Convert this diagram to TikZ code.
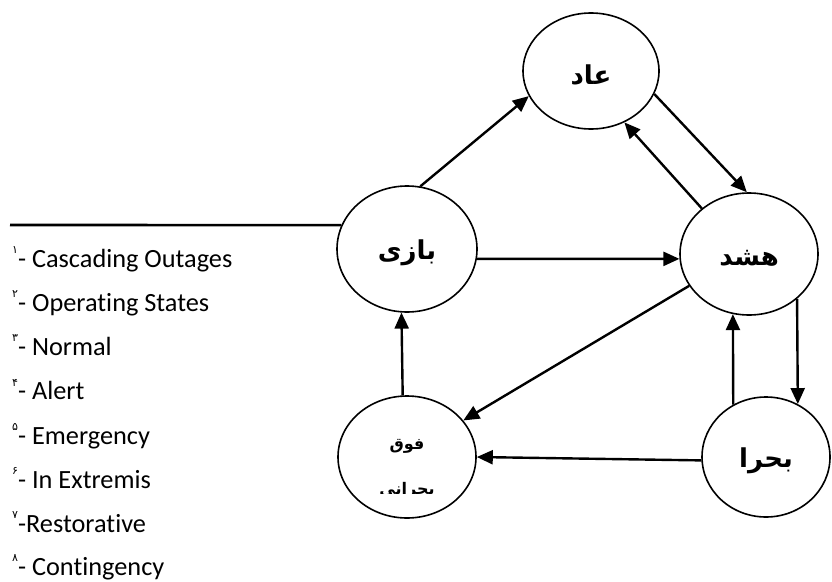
\documentclass[tikz,border=0pt]{standalone}
\usepackage{fontspec}
\setmainfont[Ligatures=NoCommon]{Carlito}
\newfontfamily\fa[Script=Arabic]{DejaVu Sans}
\TeXXeTstate=1
\usetikzlibrary{shapes.geometric,arrows.meta}
\newcommand{\lowlabel}[1]{\raisebox{-4pt}[\height][\depth]{\beginR #1\endR}}
\begin{document}
\begin{tikzpicture}[x=1pt,y=-1pt,
  state/.style={ellipse,draw,line width=1.6pt,inner sep=0pt,font=\fa\bfseries\fontsize{26}{30}\selectfont},
  arr/.style={line width=2.4pt,-{Triangle[length=16pt,width=14pt]}},
  item/.style={anchor=base west,inner sep=0pt,font=\fontsize{26.3}{30}\selectfont}]
\useasboundingbox (0,0) rectangle (832,581);
% states
\node[state,minimum width=136pt,minimum height=116pt] (A) at (591,71) {\lowlabel{عاد}};
\node[state,minimum width=140pt,minimum height=126pt] (B) at (407,249) {\lowlabel{بازی}};
\node[state,minimum width=138pt,minimum height=122pt] (H) at (749,254) {\lowlabel{هشد}};
\node[state,minimum width=128pt,minimum height=120pt] (R) at (766,457) {\lowlabel{بحرا}};
\node[ellipse,draw,line width=1.6pt,inner sep=0pt,minimum width=138pt,minimum height=122pt] (F) at (407,457) {};
\node[font=\fa\bfseries\fontsize{16}{18}\selectfont,inner sep=0pt] (F1) at (407,446) {\beginR فوق\endR};
\begin{scope}
  \clip (330,470) rectangle (490,493);
  \node[font=\fa\bfseries\fontsize{16}{18}\selectfont,inner sep=0pt] (F2) at (407,490) {\beginR بحرانی\endR};
\end{scope}
% connectors
\draw[arr] (B.78.7) -- (A.202);
\draw[arr] (A.-20.6) -- (H.92.8);
\draw[arr] (H.136.8) -- (A.-57.3);
\draw[arr] (B.-8) -- (H.184.1);
\draw[arr] (H.208.1) -- (F.33.5);
\draw[arr] (H.-43.2) -- (R.59.6);
\draw[arr] (R.122.4) -- (H.255.3);
\draw[arr] (R.183.6) -- (F.-0.8);
\draw[arr] (F.94.7) -- (B.265.4);
\coordinate (L0) at (10,225);
\draw[line width=2.6pt] (L0) -- (B.160.3);
% list
\node[item] (l1) at (12,267) {\raisebox{1.1ex}{\fa\fontsize{11}{12}\selectfont ۱}- Cascading Outages};
\node[item] (l2) at (12,311.3) {\raisebox{1.1ex}{\fa\fontsize{11}{12}\selectfont ۲}- Operating States};
\node[item] (l3) at (12,355.6) {\raisebox{1.1ex}{\fa\fontsize{11}{12}\selectfont ۳}- Normal};
\node[item] (l4) at (12,399.9) {\raisebox{1.1ex}{\fa\fontsize{11}{12}\selectfont ۴}- Alert};
\node[item] (l5) at (12,444.2) {\raisebox{1.1ex}{\fa\fontsize{11}{12}\selectfont ۵}- Emergency};
\node[item] (l6) at (12,488.5) {\raisebox{1.1ex}{\fa\fontsize{11}{12}\selectfont ۶}- In Extremis};
\node[item] (l7) at (12,532.8) {\raisebox{1.1ex}{\fa\fontsize{11}{12}\selectfont ۷}-Restorative};
\node[item] (l8) at (12,575) {\raisebox{1.1ex}{\fa\fontsize{11}{12}\selectfont ۸}- Contingency};
\end{tikzpicture}
\end{document}
